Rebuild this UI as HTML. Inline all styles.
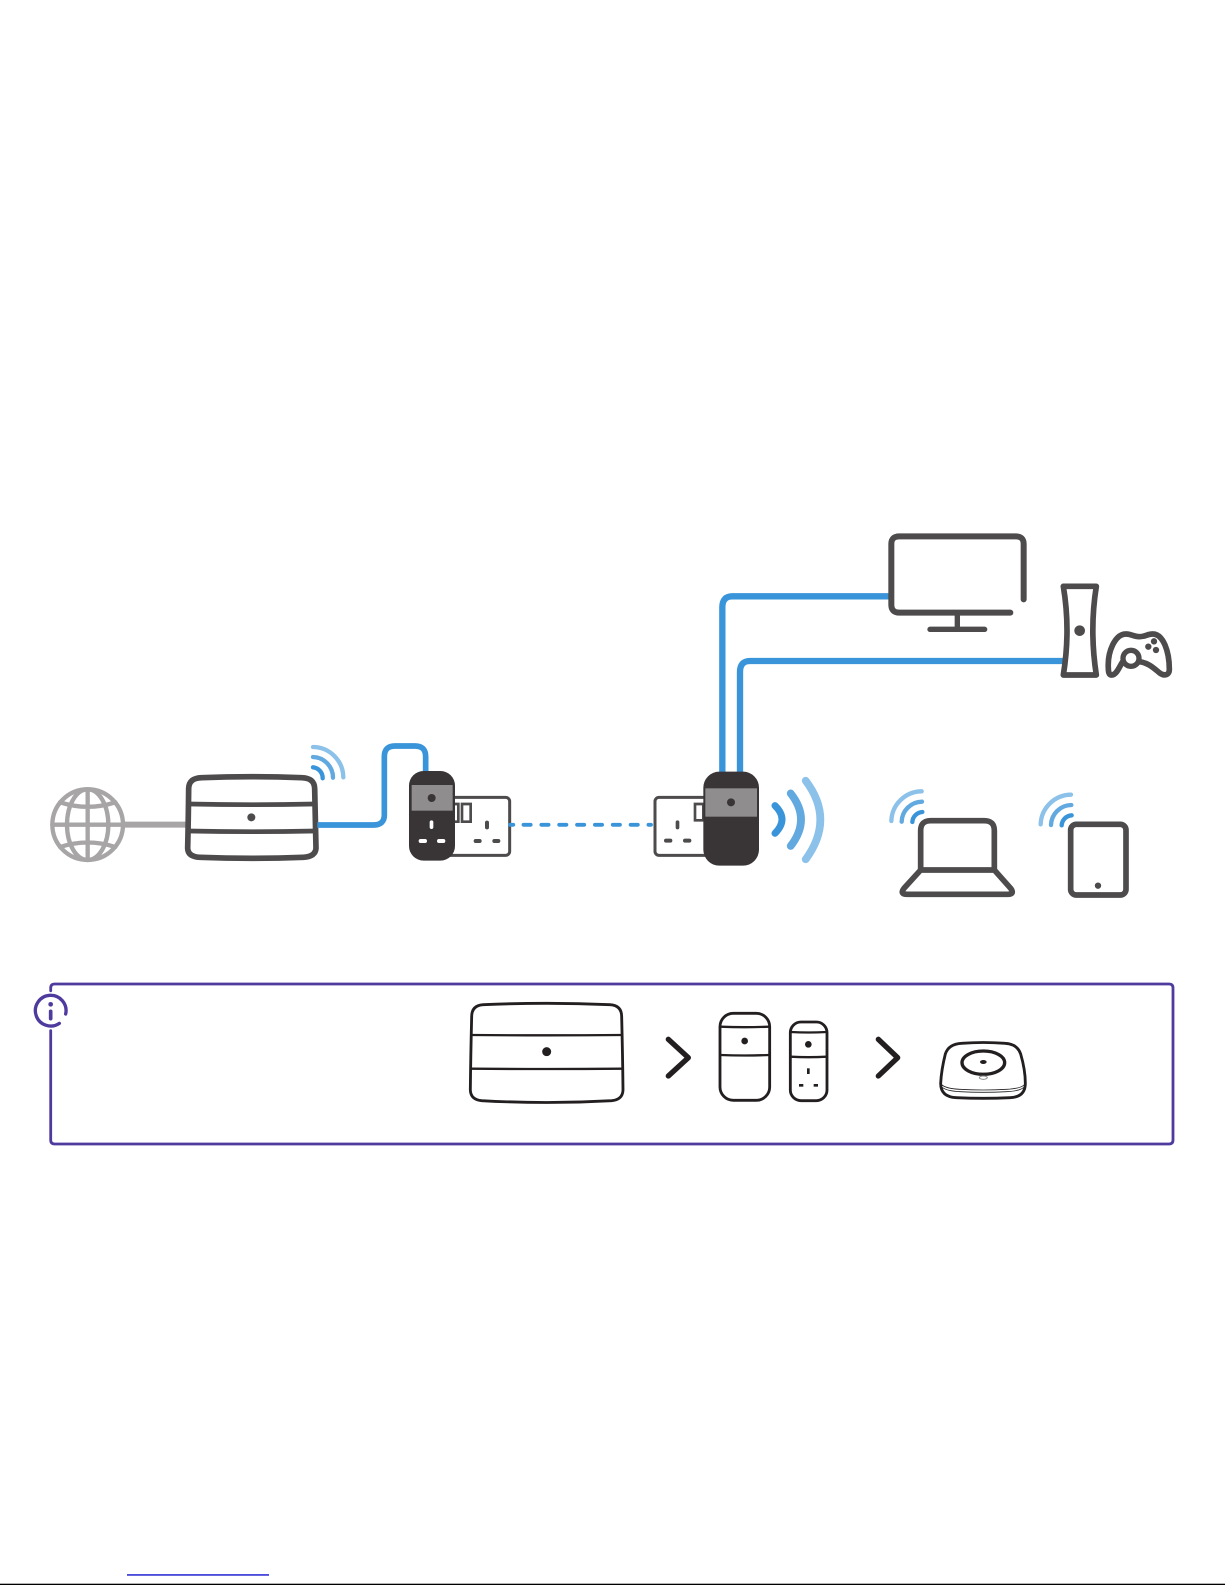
<!DOCTYPE html>
<html lang="en"><head><meta charset="utf-8"><title>Network diagram</title>
<style>html,body{margin:0;padding:0;background:#fff}svg{display:block}</style></head>
<body>
<svg xmlns="http://www.w3.org/2000/svg" width="1225" height="1585" viewBox="0 0 1225 1585">
<rect width="1225" height="1585" fill="#fff"/>

<!-- left cluster -->
<g transform="translate(30,720) scale(.33333)" fill="none" stroke-linecap="round" stroke-linejoin="round">
  <!-- globe -->
  <g stroke="#a7a5a6" stroke-width="13">
    <circle cx="173" cy="314" r="106"/>
    <ellipse cx="173" cy="314" rx="62" ry="106"/>
    <path d="M173,208V420M67,314H279M90,247Q173,274 256,247M90,381Q173,354 256,381"/>
  </g>
  <path d="M279,314H470" stroke="#a7a5a6" stroke-width="18" stroke-linecap="butt"/>
  <!-- router -->
  <path d="M515,173Q665,167 815,173Q853,174 854,205Q856,300 858,385Q856,410 820,412Q665,418 510,412Q474,410 473,385Q475,300 476,205Q477,174 515,173Z" fill="#fff" stroke="#4d4b4c" stroke-width="17"/>
  <path d="M478,252Q665,256 853,252M476,333Q665,337 856,333" stroke="#4d4b4c" stroke-width="14"/>
  <circle cx="664" cy="292" r="12" fill="#4d4b4c"/>
  <!-- wifi -->
  <g stroke-width="13">
    <path d="M849,81A92,92 0 0 1 940,172" stroke="#8cc1ea"/>
    <path d="M849,111A62,62 0 0 1 909,173" stroke="#62a9e0"/>
    <path d="M849,142A32,32 0 0 1 878,175" stroke="#3a94d9"/>
  </g>
  <!-- blue link -->
  <path d="M862,315H1030Q1063,315 1063,285V110Q1063,78 1095,78H1155Q1187,78 1187,110V165" stroke="#3a94d9" stroke-width="17" stroke-linecap="butt"/>
  <!-- socket -->
  <rect x="1250" y="232" width="189" height="174" rx="12" fill="#fff" stroke="#4d4b4c" stroke-width="9"/>
  <path d="M1262,252H1285V305H1262ZM1296,252H1322V305H1296Z" stroke="#4d4b4c" stroke-width="8" stroke-linejoin="miter"/>
  <rect x="1365" y="302" width="12" height="26" rx="6" fill="#4d4b4c"/>
  <rect x="1331" y="357" width="24" height="12" rx="6" fill="#4d4b4c"/>
  <rect x="1387" y="357" width="24" height="12" rx="6" fill="#4d4b4c"/>
  <!-- plug -->
  <rect x="1137" y="153" width="138" height="269" rx="44" fill="#393536"/>
  <rect x="1145" y="195" width="123" height="77" fill="#8f8d8e"/>
  <circle cx="1205" cy="234" r="12" fill="#393536"/>
  <rect x="1199" y="301" width="11" height="26" rx="5.5" fill="#fff"/>
  <rect x="1166" y="357" width="25" height="12" rx="6" fill="#fff"/>
  <rect x="1221" y="357" width="25" height="12" rx="6" fill="#fff"/>
</g>

<!-- dashed powerline -->
<path d="M510,824.8H513.3" stroke="#3a94d9" stroke-width="3.8" stroke-linecap="round"/>
<path d="M523.5,824.8H651" fill="none" stroke="#3a94d9" stroke-width="3.8" stroke-linecap="round" stroke-dasharray="7.2 10.65"/>

<!-- TV, console, controller and upper links -->
<g transform="translate(700,520) scale(.33333)" fill="none" stroke-linecap="round" stroke-linejoin="round">
  <path d="M570,229H97Q67,229 67,262V760" stroke="#3a94d9" stroke-width="19" stroke-linecap="butt"/>
  <path d="M1090,423H150Q120,423 120,456V760" stroke="#3a94d9" stroke-width="19" stroke-linecap="butt"/>
  <path d="M971,238V72Q971,49 947,49H598Q574,49 574,72V254Q574,278 598,278H931" stroke="#4d4b4c" stroke-width="18"/>
  <path d="M772,284V328M690,328H854" stroke="#4d4b4c" stroke-width="16"/>
  <path d="M1090,199H1189Q1168,330 1189,465H1090Q1112,330 1090,199Z" fill="#fff" stroke="#4d4b4c" stroke-width="17"/>
  <circle cx="1139" cy="332" r="16" fill="#4d4b4c"/>
  <path d="M1225,445C1222,395 1245,342 1278,342C1295,342 1300,350 1318,350C1336,350 1342,342 1358,342C1390,342 1408,395 1408,448C1408,468 1390,468 1378,458C1362,445 1345,428 1318,425M1268,425C1258,440 1250,465 1235,465C1228,465 1225,458 1225,445" stroke="#4d4b4c" stroke-width="17"/>
  <circle cx="1293" cy="415" r="24" fill="#fff" stroke="#4d4b4c" stroke-width="16"/>
  <circle cx="1345" cy="380" r="9.5" fill="#4d4b4c"/>
  <circle cx="1362" cy="364" r="9.5" fill="#4d4b4c"/>
  <circle cx="1368" cy="390" r="9.5" fill="#4d4b4c"/>
</g>

<!-- right cluster -->
<g transform="translate(640,750) scale(.33333)" fill="none" stroke-linecap="round" stroke-linejoin="round">
  <rect x="45" y="142" width="165" height="174" rx="12" fill="#fff" stroke="#4d4b4c" stroke-width="9"/>
  <path d="M165,162H190V211H165Z" stroke="#4d4b4c" stroke-width="8" stroke-linejoin="miter"/>
  <rect x="107" y="211" width="11" height="27" rx="5.5" fill="#4d4b4c"/>
  <rect x="72" y="266" width="25" height="12" rx="6" fill="#4d4b4c"/>
  <rect x="129" y="266" width="25" height="12" rx="6" fill="#4d4b4c"/>
  <rect x="190" y="65" width="167" height="282" rx="48" fill="#393536"/>
  <rect x="196" y="115" width="155" height="85" fill="#8f8d8e"/>
  <circle cx="273" cy="157" r="12" fill="#393536"/>
  <path d="M405,167Q447,208 405,250" stroke="#3a94d9" stroke-width="21"/>
  <path d="M452,130Q514,208 452,288" stroke="#62a9e0" stroke-width="23"/>
  <path d="M497,92Q585,208 497,328" stroke="#8cc1ea" stroke-width="23"/>
  <!-- laptop -->
  <path d="M842,360V242Q842,212 872,212H1033Q1063,212 1063,242V360" fill="#fff" stroke="#4d4b4c" stroke-width="17"/>
  <path d="M842,360H1063L1112,415Q1125,433 1103,433H802Q778,433 792,415Z" stroke="#4d4b4c" stroke-width="17"/>
  <g stroke-width="13">
    <path d="M845,124A92,92 0 0 0 754,213" stroke="#8cc1ea"/>
    <path d="M846,155A62,62 0 0 0 785,215" stroke="#62a9e0"/>
    <path d="M847,186A32,32 0 0 0 817,216" stroke="#3a94d9"/>
  </g>
  <!-- tablet -->
  <rect x="1292" y="223" width="166" height="212" rx="17" fill="#fff" stroke="#4d4b4c" stroke-width="17"/>
  <circle cx="1374" cy="407" r="9.5" fill="#4d4b4c"/>
  <g stroke-width="13">
    <path d="M1293,134A92,92 0 0 0 1202,223" stroke="#8cc1ea"/>
    <path d="M1294,165A62,62 0 0 0 1233,225" stroke="#62a9e0"/>
    <path d="M1295,196A32,32 0 0 0 1265,226" stroke="#3a94d9"/>
  </g>
</g>

<!-- info box -->
<path d="M50.7,990.7V988Q50.7,984 54.7,984H1169Q1173,984 1173,988V1140Q1173,1144 1169,1144H54.7Q50.7,1144 50.7,1140V1030.7" fill="none" stroke="#4f3a9e" stroke-width="2.8" stroke-linecap="round"/>
<g transform="translate(20,970) scale(.33333)" fill="none" stroke="#4f3a9e" stroke-linecap="round">
  <path d="M137,132A46,46 0 1 0 118,160" stroke-width="10"/>
  <path d="M92,124V146" stroke-width="11"/>
  <circle cx="92" cy="103" r="7" fill="#4f3a9e" stroke="none"/>
</g>

<!-- info box line art -->
<g transform="translate(460,990) scale(.33333)" fill="none" stroke="#231f20" stroke-linecap="round" stroke-linejoin="round">
  <path d="M70,44Q260,36 450,44Q485,46 485,80Q488,200 489,300Q488,329 455,332Q260,343 65,332Q32,329 31,300Q32,200 35,80Q35,46 70,44Z" stroke-width="8.5"/>
  <path d="M36,135Q260,137 485,135M34,236Q260,238 487,236" stroke-width="7"/>
  <circle cx="260" cy="185" r="13.5" fill="#231f20" stroke="none"/>
  <path d="M625,148L685,203L625,258" stroke-width="16"/>
  <rect x="780" y="70" width="149" height="261" rx="40" stroke-width="8.5"/>
  <path d="M781,110Q854,113 928,110M781,195Q854,198 928,195" stroke-width="7"/>
  <circle cx="854" cy="153" r="10" fill="#231f20" stroke="none"/>
  <rect x="991" y="96" width="110" height="236" rx="32" stroke-width="8.5"/>
  <path d="M992,126Q1045,129 1100,126M992,200Q1045,203 1100,200" stroke-width="7"/>
  <circle cx="1045" cy="163" r="10" fill="#231f20" stroke="none"/>
  <g fill="#231f20" stroke="none">
    <rect x="1041" y="235" width="8" height="17"/>
    <rect x="1017" y="282" width="13" height="8"/>
    <rect x="1061" y="282" width="13" height="8"/>
  </g>
</g>
<g transform="translate(860,990) scale(.33333)" fill="none" stroke="#231f20" stroke-linecap="round" stroke-linejoin="round">
  <path d="M55,148L113,203L55,258" stroke-width="16"/>
  <path d="M305,160Q370,155 435,160Q472,162 482,192Q496,240 496,280Q496,321 450,323Q370,327 290,323Q242,321 242,280Q244,240 256,192Q266,162 305,160Z" stroke-width="8.5"/>
  <ellipse cx="370" cy="218" rx="64" ry="35" stroke-width="10"/>
  <ellipse cx="370" cy="216" rx="10" ry="6" fill="#231f20" stroke="none"/>
  <ellipse cx="370" cy="263" rx="12" ry="5" stroke="#8a8a8a" stroke-width="3"/>
  <path d="M246,285Q260,296 300,298Q370,302 440,298Q480,296 492,285M248,293Q262,303 300,305Q370,309 440,305Q478,303 490,293" stroke-width="2.5"/>
</g>

<!-- bottom rule and link underline -->
<rect x="127" y="1574.3" width="142" height="1.3" fill="#0000cc"/>
<rect x="0" y="1583.7" width="1225" height="1.3" fill="#000"/>
</svg>
</body></html>
